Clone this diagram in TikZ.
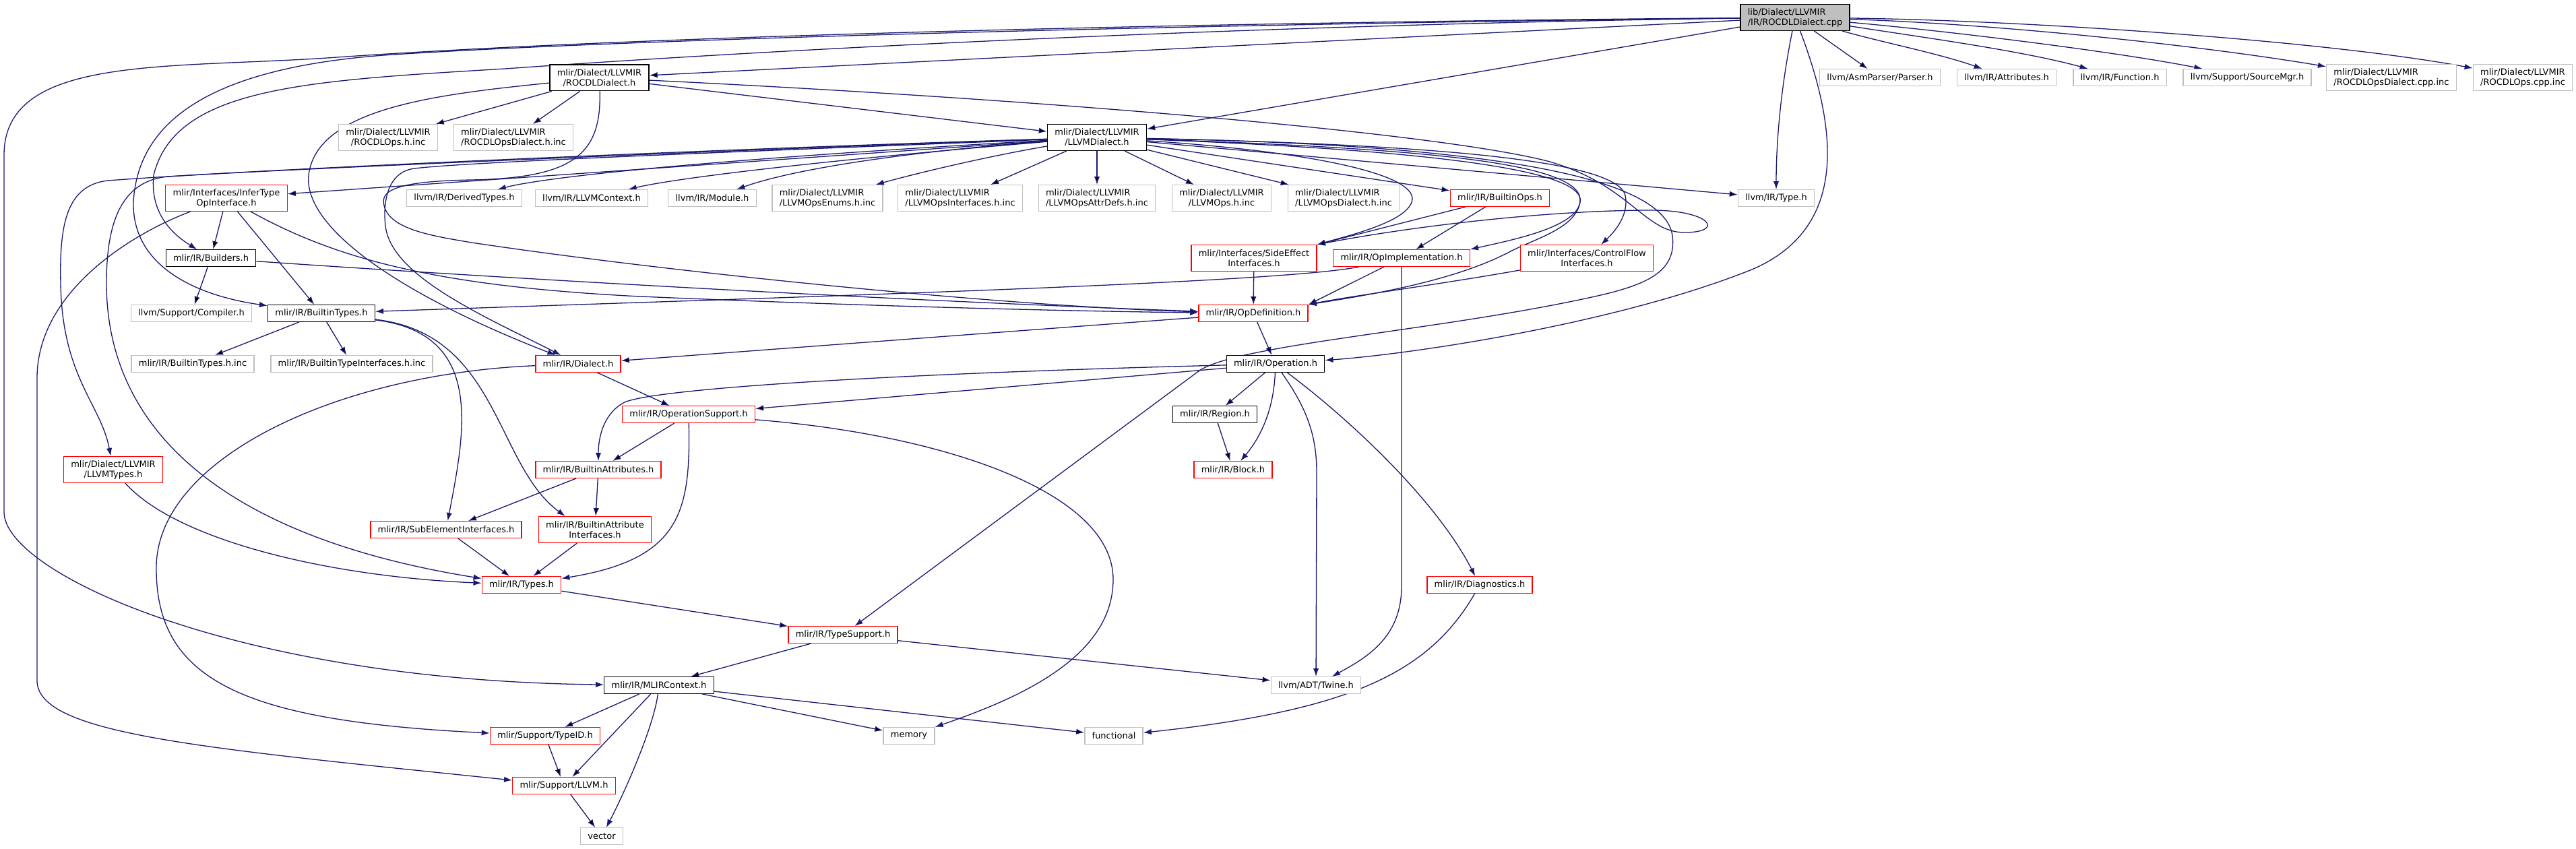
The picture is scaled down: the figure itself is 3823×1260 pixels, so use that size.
\documentclass[tikz,border=0pt]{standalone}
\usepackage{fontspec}
\setmainfont{DejaVu Sans}
\usetikzlibrary{arrows.meta}
\pgfdeclarelayer{background}
\pgfsetlayers{background,main}
\definecolor{midnight}{HTML}{191970}
\definecolor{sysgray}{HTML}{BFBFBF}
\tikzset{
  hdr/.style={draw=black, line width=1.4pt, fill=white, inner xsep=10.8pt, inner ysep=5.3pt, minimum height=24.6pt, align=center},
  two/.style={minimum height=38.6pt},
  trunc/.style={hdr, draw=red},
  sys/.style={hdr, draw=sysgray},
  rootbox/.style={hdr, fill=sysgray},
  dep/.style={->, >={Latex[length=12pt,width=8.5pt]}, draw=midnight, line width=1.3pt}
}
\begin{document}
\begin{tikzpicture}[x=1pt, y=-1pt, font=\fontsize{13}{15}\selectfont]
\useasboundingbox (0,0) rectangle (3823,1260);

\node[rootbox, two, align=left] (R) at (2664,26) {lib/Dialect/LLVMIR\\/IR/ROCDLDialect.cpp};
\node[hdr, two] (RD) at (889.5,115.5) {mlir/Dialect/LLVMIR\\/ROCDLDialect.h};
\node[sys] (Parser) at (2790,115) {llvm/AsmParser/Parser.h};
\node[sys] (Attr) at (2978,115) {llvm/IR/Attributes.h};
\node[sys] (Func) at (3146,115) {llvm/IR/Function.h};
\node[sys] (SrcMgr) at (3335,115) {llvm/Support/SourceMgr.h};
\node[sys, two, align=left] (OpsDialCpp) at (3549,115) {mlir/Dialect/LLVMIR\\/ROCDLOpsDialect.cpp.inc};
\node[sys, two, align=left] (OpsCpp) at (3744,115) {mlir/Dialect/LLVMIR\\/ROCDLOps.cpp.inc};

\node[sys, two] (ROps) at (576,204) {mlir/Dialect/LLVMIR\\/ROCDLOps.h.inc};
\node[sys, two, align=left] (RODial) at (762,204) {mlir/Dialect/LLVMIR\\/ROCDLOpsDialect.h.inc};
\node[hdr, two] (LD) at (1628,204) {mlir/Dialect/LLVMIR\\/LLVMDialect.h};

\node[trunc, two] (IT) at (336,294) {mlir/Interfaces/InferType\\OpInterface.h};
\node[sys] (DT) at (689,294) {llvm/IR/DerivedTypes.h};
\node[sys] (LC) at (878,294) {llvm/IR/LLVMContext.h};
\node[sys] (Mod) at (1057,294) {llvm/IR/Module.h};
\node[sys, two, align=left] (Enums) at (1228,294) {mlir/Dialect/LLVMIR\\/LLVMOpsEnums.h.inc};
\node[sys, two, align=left] (Intf) at (1425,294) {mlir/Dialect/LLVMIR\\/LLVMOpsInterfaces.h.inc};
\node[sys, two, align=left] (AttrDefs) at (1628,294) {mlir/Dialect/LLVMIR\\/LLVMOpsAttrDefs.h.inc};
\node[sys, two] (Ops) at (1813,294) {mlir/Dialect/LLVMIR\\/LLVMOps.h.inc};
\node[sys, two, align=left] (OpsDial) at (1994,294) {mlir/Dialect/LLVMIR\\/LLVMOpsDialect.h.inc};
\node[trunc] (BO) at (2226,294) {mlir/IR/BuiltinOps.h};
\node[sys] (LT) at (2636,294) {llvm/IR/Type.h};

\node[hdr] (BU) at (313,383) {mlir/IR/Builders.h};
\node[trunc, two] (SE) at (1861,383) {mlir/Interfaces/SideEffect\\Interfaces.h};
\node[trunc] (OI) at (2080,383) {mlir/IR/OpImplementation.h};
\node[trunc, two] (CF) at (2355,383) {mlir/Interfaces/ControlFlow\\Interfaces.h};

\node[sys] (Comp) at (284,465) {llvm/Support/Compiler.h};
\node[hdr] (BT) at (477,465) {mlir/IR/BuiltinTypes.h};
\node[trunc] (OD) at (1860,465) {mlir/IR/OpDefinition.h};

\node[sys] (BTinc) at (286,540) {mlir/IR/BuiltinTypes.h.inc};
\node[sys] (BTIinc) at (522,540) {mlir/IR/BuiltinTypeInterfaces.h.inc};
\node[trunc] (DI) at (858,540) {mlir/IR/Dialect.h};
\node[hdr] (OP) at (1893,540) {mlir/IR/Operation.h};

\node[trunc] (OS) at (1022,615) {mlir/IR/OperationSupport.h};
\node[hdr] (RG) at (1803,615) {mlir/IR/Region.h};

\node[trunc, two] (LTy) at (168,697) {mlir/Dialect/LLVMIR\\/LLVMTypes.h};
\node[trunc] (BA) at (888,697) {mlir/IR/BuiltinAttributes.h};
\node[trunc] (BL) at (1830,697) {mlir/IR/Block.h};

\node[trunc] (SEI) at (662,786) {mlir/IR/SubElementInterfaces.h};
\node[trunc, two] (BAI) at (883,786) {mlir/IR/BuiltinAttribute\\Interfaces.h};

\node[trunc] (TY) at (774,868) {mlir/IR/Types.h};
\node[trunc] (DG) at (2196,868) {mlir/IR/Diagnostics.h};
\node[trunc] (TS) at (1251,942) {mlir/IR/TypeSupport.h};
\node[hdr] (MC) at (978,1017) {mlir/IR/MLIRContext.h};
\node[sys] (TW) at (1953,1017) {llvm/ADT/Twine.h};
\node[trunc] (TID) at (809,1092) {mlir/Support/TypeID.h};
\node[sys] (MEM) at (1349,1092) {memory};
\node[sys] (FN) at (1653,1092) {functional};
\node[trunc] (SL) at (837,1166) {mlir/Support/LLVM.h};
\node[sys] (VEC) at (893,1241) {vector};

\begin{pgfonlayer}{background}
\path[dep] (R) edge (RD) (R) edge (LD) (R) edge (Parser);
\draw[dep] (R) .. controls (2790,62) and (2880,80) .. (Attr);
\draw[dep] (R) .. controls (2850,55) and (3000,75) .. (Func);
\draw[dep] (R) .. controls (2880,45) and (3130,75) .. (SrcMgr);
\draw[dep] (R) .. controls (2950,35) and (3250,65) .. (OpsDialCpp);
\draw[dep] (R) .. controls (3000,30) and (3450,60) .. (OpsCpp);
\draw[dep] (R) .. controls (2645,120) and (2636,200) .. (LT);
\draw[dep] (R) .. controls (2730,200) and (2740,340) .. (2600,400)
  .. controls (2400,480) and (2100,525) .. (OP);
\draw[dep] (R) .. controls (1900,32) and (1000,50) .. (500,85)
  .. controls (250,103) and (6,80) .. (6,230) -- (6,760)
  .. controls (6,850) and (350,1010) .. (MC);
\draw[dep] (R) .. controls (1900,34) and (1000,55) .. (600,80)
  .. controls (330,95) and (205,170) .. (198,300)
  .. controls (196,400) and (300,440) .. (BT);
\draw[dep] (R) .. controls (1900,36) and (1200,70) .. (750,102)
  .. controls (450,120) and (260,130) .. (228,260)
  .. controls (222,320) and (260,350) .. (BU);

\path[dep] (RD) edge (ROps) (RD) edge (RODial) (RD) edge (LD);
\draw[dep] (RD) .. controls (1600,150) and (2150,200) .. (2300,240)
  .. controls (2420,275) and (2440,345) .. (2500,345)
  .. controls (2560,345) and (2540,312) .. (2450,312)
  .. controls (2300,312) and (2100,335) .. (SE.north east);
\draw[dep] (RD) .. controls (650,140) and (470,160) .. (458,260)
  .. controls (450,340) and (600,440) .. (DI);
\draw[dep] (RD) .. controls (893,230) and (850,264) .. (700,267)
  .. controls (580,269) and (565,285) .. (570,305)
  .. controls (578,340) and (640,350) .. (700,360)
  .. controls (1000,405) and (1500,455) .. (OD);

\draw[dep] (LD) .. controls (1100,220) and (400,250) .. (160,268)
  .. controls (100,275) and (88,330) .. (90,420)
  .. controls (92,560) and (150,600) .. (LTy);
\draw[dep] (LD) .. controls (1100,222) and (400,252) .. (250,262)
  .. controls (180,268) and (158,330) .. (158,420)
  .. controls (158,650) and (350,800) .. (TY);
\draw[dep] (LD) .. controls (1100,225) and (700,240) .. (615,250)
  .. controls (575,255) and (568,300) .. (572,335)
  .. controls (580,410) and (720,470) .. (DI);
\path[dep] (LD) edge (IT);
\draw[dep] (LD) .. controls (1000,240) and (800,265) .. (DT);
\draw[dep] (LD) .. controls (1200,240) and (1000,265) .. (LC);
\draw[dep] (LD) .. controls (1350,225) and (1180,250) .. (Mod);
\draw[dep] (LD) .. controls (1450,235) and (1350,260) .. (Enums);
\path[dep] (LD) edge (Intf) (LD) edge (AttrDefs) (LD) edge (Ops) (LD) edge (OpsDial);
\path[dep] (LD) edge (BO) (LD) edge (LT);
\draw[dep] (LD) .. controls (1950,225) and (2110,260) .. (2095,300)
  .. controls (2085,330) and (2000,350) .. (SE.north east);
\draw[dep] (LD) .. controls (2100,220) and (2340,240) .. (2345,295)
  .. controls (2348,335) and (2250,355) .. (OI.north east);
\draw[dep] (LD) .. controls (2100,222) and (2355,250) .. (2345,300)
  .. controls (2338,340) and (2275,355) .. (2238,375)
  .. controls (2160,415) and (2050,435) .. (OD.north east);
\draw[dep] (LD) .. controls (2150,215) and (2400,240) .. (2412,290)
  .. controls (2418,320) and (2395,345) .. (CF);
\draw[dep] (LD) .. controls (2200,215) and (2470,260) .. (2482,350)
  .. controls (2488,400) and (2450,420) .. (2380,437)
  .. controls (2150,490) and (1840,510) .. (1780,550) -- (TS);

\path[dep] (IT) edge (BU) (IT) edge (BT);
\draw[dep] (IT) .. controls (200,345) and (56,430) .. (55,560) -- (55,1010)
  .. controls (55,1090) and (300,1110) .. (SL);
\draw[dep] (IT) .. controls (500,385) and (650,425) .. (950,440)
  .. controls (1300,455) and (1600,462) .. (OD);

\path[dep] (BU) edge (Comp);
\draw[dep] (BU) .. controls (700,410) and (1300,445) .. (OD);

\path[dep] (BT) edge (BTinc) (BT) edge (BTIinc);
\draw[dep] (BT) .. controls (720,495) and (690,640) .. (SEI);
\draw[dep] (BT) .. controls (740,495) and (735,690) .. ([xshift=40pt]BAI.north west);

\draw[dep] (OI) .. controls (1900,420) and (1200,440) .. (BT);
\path[dep] (OI) edge (OD.north east);
\draw[dep] (OI) -- (2080,870) .. controls (2080,945) and (2030,975) .. (TW);
\draw[dep] (CF) .. controls (2150,420) and (2000,440) .. (OD.north east);
\path[dep] (BO) edge (SE.north east) (BO) edge (OI);
\path[dep] (SE) edge (OD);

\path[dep] (OD) edge (OP) (OD) edge (DI);
\path[dep] (OP) edge (RG) (OP) edge (OS);
\draw[dep] (OP) .. controls (1890,610) and (1870,650) .. (BL);
\draw[dep] (OP) .. controls (1300,555) and (960,578) .. (925,598)
  .. controls (895,615) and (888,650) .. (BA);
\draw[dep] (OP) .. controls (1935,600) and (1954,640) .. (1954,700) -- (TW);
\draw[dep] (OP) .. controls (2000,620) and (2130,740) .. (DG);
\path[dep] (RG) edge (BL);

\path[dep] (OS) edge (BA);
\draw[dep] (OS) .. controls (1025,760) and (1010,830) .. (TY);
\draw[dep] (OS) .. controls (1400,645) and (1652,730) .. (1652,860)
  .. controls (1652,980) and (1500,1040) .. (MEM.north east);

\path[dep] (DI) edge (OS);
\draw[dep] (DI) .. controls (500,555) and (235,680) .. (232,840)
  .. controls (230,1010) and (360,1070) .. (TID);

\draw[dep] (LTy) .. controls (260,800) and (480,855) .. (TY);
\path[dep] (SEI) edge (TY) (BAI) edge (TY);
\path[dep] (BA) edge (SEI) (BA) edge (BAI);
\path[dep] (TY) edge (TS);
\path[dep] (TS) edge (MC) (TS) edge (TW);
\path[dep] (MC) edge (TID) (MC) edge (SL) (MC) edge (MEM) (MC) edge (FN);
\draw[dep] (MC) .. controls (970,1080) and (925,1180) .. (VEC);
\path[dep] (TID) edge (SL) (SL) edge (VEC);
\draw[dep] (DG) .. controls (2120,1000) and (2000,1055) .. (FN);
\end{pgfonlayer}
\end{tikzpicture}
\end{document}
